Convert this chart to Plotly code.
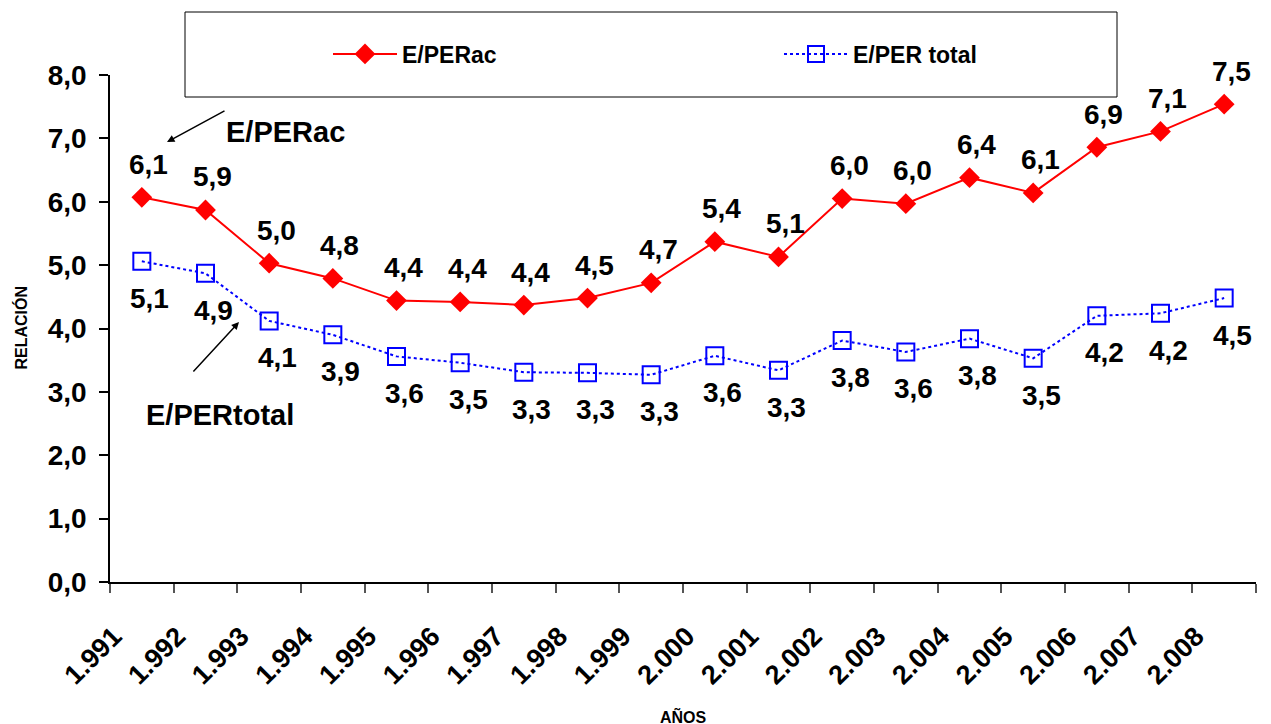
import plotly.graph_objects as go

years = ["1.991", "1.992", "1.993", "1.994", "1.995", "1.996", "1.997", "1.998", "1.999",
         "2.000", "2.001", "2.002", "2.003", "2.004", "2.005", "2.006", "2.007", "2.008"]
eper_ac = [6.07, 5.87, 5.03, 4.79, 4.44, 4.42, 4.37, 4.48, 4.72,
           5.37, 5.13, 6.05, 5.97, 6.38, 6.14, 6.86, 7.11, 7.54]
eper_total = [5.06, 4.87, 4.12, 3.90, 3.56, 3.46, 3.31, 3.30, 3.27,
              3.57, 3.34, 3.81, 3.63, 3.84, 3.53, 4.20, 4.24, 4.48]

FONT = "Liberation Sans"


def fmt(v):
    return f"{v:.1f}".replace(".", ",")


fig = go.Figure()
fig.add_trace(go.Scatter(
    x=years, y=eper_ac, name="E/PERac", mode="lines+markers",
    line=dict(color="#FF0000", width=2),
    marker=dict(symbol="diamond", size=16, color="#FF0000"),
))
fig.add_trace(go.Scatter(
    x=years, y=eper_total, name="E/PER total", mode="lines+markers",
    line=dict(color="#0000FF", width=2, dash="dot"),
    marker=dict(symbol="square-open", size=17, color="#0000FF", line=dict(width=2)),
))

lab_font = dict(family=FONT, size=28, color="black", weight="bold")
for i, v in enumerate(eper_ac):
    fig.add_annotation(x=i, y=v, xref="x", yref="y", text=fmt(v), showarrow=False,
                       xanchor="center", yanchor="middle",
                       yshift=33, xshift=7, font=lab_font)
for i, v in enumerate(eper_total):
    fig.add_annotation(x=i, y=v, xref="x", yref="y", text=fmt(v), showarrow=False,
                       xanchor="center", yanchor="middle",
                       yshift=-37, xshift=8, font=lab_font)

# plot area in screenshot pixels: x 110..1256, y 75..582
def px(xp):
    return (xp - 110) / 1146


def py(yp):
    return (582 - yp) / 507


big = dict(family=FONT, size=29, color="black", weight="bold")
fig.add_annotation(xref="paper", yref="paper", x=px(285), y=py(132), text="E/PERac",
                   xanchor="center", yanchor="middle", showarrow=False, font=big)
fig.add_annotation(xref="paper", yref="paper", x=px(220), y=py(415), text="E/PERtotal",
                   xanchor="center", yanchor="middle", showarrow=False, font=big)
fig.add_annotation(xref="paper", yref="paper", x=px(167), y=py(142), text="",
                   showarrow=True, ax=59, ay=-32, arrowhead=2, arrowsize=1,
                   arrowwidth=1.5, arrowcolor="black", standoff=0)
fig.add_annotation(xref="paper", yref="paper", x=px(239), y=py(322), text="",
                   showarrow=True, ax=-47, ay=51, arrowhead=2, arrowsize=1,
                   arrowwidth=1.5, arrowcolor="black", standoff=0)

small = dict(family=FONT, size=16, color="black", weight="bold")
fig.add_annotation(xref="paper", yref="paper", x=px(20.5), y=py(328), text="RELACIÓN",
                   xanchor="center", yanchor="middle",
                   textangle=-90, showarrow=False, font=small)
fig.add_annotation(xref="paper", yref="paper", x=px(683.5), y=py(716), text="AÑOS",
                   xanchor="center", yanchor="middle", showarrow=False, font=small)

# legend frame
fig.add_shape(type="rect", xref="paper", yref="paper",
              x0=px(185), x1=px(1117), y0=py(97), y1=py(12),
              line=dict(color="black", width=1), fillcolor="white", layer="below")

fig.update_layout(
    width=1271, height=724,
    margin=dict(l=102, r=23, t=67, b=150, autoexpand=False),
    plot_bgcolor="white", paper_bgcolor="white",
    separators=",.",
    showlegend=True,
    legend=dict(orientation="h", xref="paper", yref="paper",
                x=px(328), y=py(54), xanchor="left", yanchor="middle",
                entrywidth=372, itemwidth=64, bgcolor="rgba(0,0,0,0)", borderwidth=0,
                font=dict(family=FONT, size=23, color="black", weight="bold")),
    xaxis=dict(type="category", range=[-0.5, len(years) - 0.5],
               tickson="boundaries", ticks="outside", ticklen=9,
               tickcolor="#555", tickwidth=1.5,
               showline=True, linecolor="black", linewidth=1.5, showgrid=False,
               tickangle=-45, ticklabelshift=-28, ticklabelstandoff=26,
               tickfont=dict(family=FONT, size=27, color="black", weight="bold")),
    yaxis=dict(range=[0, 8], dtick=1, tickformat=".1f", ticks="outside", ticklen=9,
               tickcolor="black", tickwidth=1.5, ticklabelstandoff=7,
               showline=True, linecolor="black", linewidth=1.5, showgrid=False,
               zeroline=False,
               tickfont=dict(family=FONT, size=28, color="black", weight="bold")),
)

fig.write_html("out.html")
